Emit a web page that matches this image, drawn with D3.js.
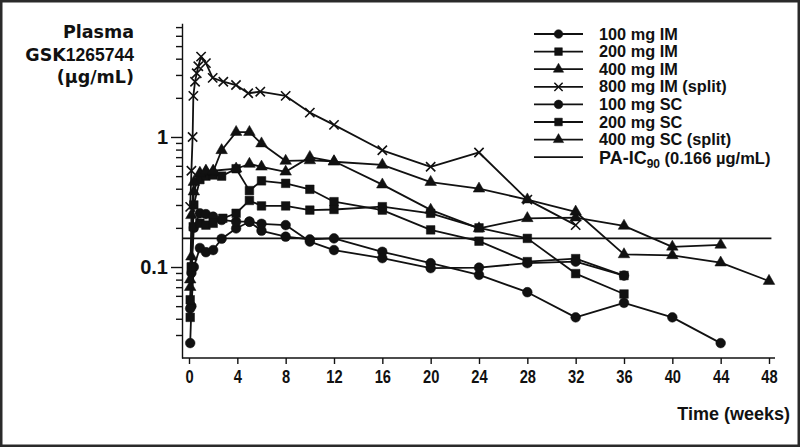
<!DOCTYPE html>
<html>
<head>
<meta charset="utf-8">
<script src="https://cdn.jsdelivr.net/npm/d3@7/dist/d3.min.js"></script>
<style>
body { margin:0; background:#fff; }
svg text { font-family:"Liberation Sans", Arial, sans-serif; font-weight:bold; fill:#111; }
svg .wide { font-family:"DejaVu Sans", Verdana, sans-serif; }
svg .plain { font-family:"Liberation Sans", Arial, sans-serif; }
</style>
</head>
<body>
<svg width="800" height="447"></svg>
<script>
// tick values
var xTicks = [0,4,8,12,16,20,24,28,32,36,40,44,48];
var yMajor = [0.1, 1];
var yMinor = [0.03,0.04,0.05,0.06,0.07,0.08,0.09,0.2,0.3,0.4,0.5,0.6,0.7,0.8,0.9,2,3,4,5,6,7];
var ic90 = 0.166;

// series names + markers (IM and SC share marker shapes)
var seriesNames = ["100 mg IM","200 mg IM","400 mg IM","800 mg IM (split)","100 mg SC","200 mg SC","400 mg SC (split)"];
var seriesSymbols = ["circle","square","triangle","cross","circle","square","triangle"];

// time (weeks) and concentration (ug/mL)
var im100Weeks = [0.1,0.2,0.4,0.9,1.4,2,2.7,3.9,5,6,8,10,12,16,20,24,28,32,36,40,44];
var im100Vals  = [0.026,0.05,0.1,0.14,0.13,0.135,0.165,0.198,0.223,0.19,0.171,0.163,0.166,0.131,0.107,0.087,0.064,0.041,0.053,0.041,0.026];

var im200Weeks = [0.1,0.2,0.4,0.9,1.4,2,2.7,3.9,5,6,8,10,12,16,20,24,28,32,36];
var im200Vals  = [0.041,0.1,0.3,0.47,0.5,0.51,0.5,0.57,0.387,0.46,0.44,0.396,0.318,0.274,0.193,0.158,0.110,0.116,0.086];

var im400Weeks = [0.1,0.2,0.4,0.9,1.4,2,2.7,3.9,5,6,8,10,12,16,20,24,28,32,36,40,44];
var im400Vals  = [0.07,0.12,0.38,0.52,0.54,0.54,0.79,1.09,1.09,0.89,0.654,0.66,0.65,0.43,0.275,0.198,0.237,0.24,0.207,0.143,0.148];

var im800Weeks = [0.1,0.2,0.3,0.36,0.5,0.64,0.77,1,1.4,1.96,2.84,3.89,4.9,5.9,8,10,12,16,20,24,28,32];
var im800Vals  = [0.29,0.55,1.0,2.07,2.66,3.09,3.5,4.15,3.7,2.85,2.66,2.51,2.17,2.23,2.07,1.54,1.24,0.79,0.59,0.76,0.33,0.21];

var sc100Weeks = [0.1,0.2,0.4,0.9,1.4,2,2.7,3.9,5,6,8,10,12,16,20,24,28,32,36];
var sc100Vals  = [0.048,0.09,0.2,0.259,0.255,0.244,0.23,0.223,0.223,0.215,0.21,0.157,0.135,0.117,0.098,0.099,0.107,0.11,0.086];

var sc200Weeks = [0.1,0.2,0.35,0.9,1.4,2,2.8,3.9,5,6,8,10,12,16,20,24,28,32,36];
var sc200Vals  = [0.056,0.1,0.204,0.217,0.21,0.217,0.237,0.259,0.325,0.295,0.295,0.274,0.277,0.291,0.259,0.2,0.166,0.089,0.062];

var sc400Weeks = [0.1,0.2,0.4,0.9,1.4,2,3.9,5,6,8,10,12,16,20,24,28,32,36,40,44,48];
var sc400Vals  = [0.08,0.25,0.45,0.53,0.55,0.55,0.57,0.62,0.59,0.54,0.70,0.645,0.61,0.45,0.40,0.33,0.266,0.125,0.123,0.108,0.078];

var allWeeks = [im100Weeks,im200Weeks,im400Weeks,im800Weeks,sc100Weeks,sc200Weeks,sc400Weeks];
var allVals  = [im100Vals,im200Vals,im400Vals,im800Vals,sc100Vals,sc200Vals,sc400Vals];

var svg = d3.select("svg");

svg.append("rect")
    .attr("x",1.25).attr("y",1.25)
    .attr("width",797.5).attr("height",444.5)
    .attr("fill","#fff")
    .attr("stroke","#2a2a2a")
    .attr("stroke-width",2.5);

var xScale = d3.scaleLinear().domain([0,48]).range([189,769]);
var yScale = d3.scaleLog().domain([0.02,7.5]).range([357.9,23.2]);
var axisX = 182;
var axisY = 358;

// symbol generator
var symbolFor = function(name, size)
{
    var types = {circle:d3.symbolCircle, square:d3.symbolSquare, triangle:d3.symbolTriangle, cross:d3.symbolX};
    return d3.symbol().type(types[name]).size(size)();
}
var sizes = {circle:74, square:74, triangle:58, cross:58};

// y axis: minor ticks then major ticks with labels
svg.append("g")
    .attr("transform","translate(" + axisX + ",0)")
    .call(d3.axisLeft(yScale).tickValues(yMinor).tickSize(6).tickSizeOuter(0).tickFormat(""))
    .call(function(g){ g.selectAll("line,path").attr("stroke","#111").attr("stroke-width",1.4); });

var yMaj = svg.append("g")
    .attr("transform","translate(" + axisX + ",0)")
    .call(d3.axisLeft(yScale).tickValues(yMajor).tickSize(11).tickPadding(3)
        .tickFormat(function(d){ return d === 1 ? "1" : "0.1"; }));
yMaj.select(".domain").remove();
yMaj.selectAll("line").attr("stroke","#111").attr("stroke-width",1.4);
yMaj.selectAll("text").attr("class","plain").attr("font-size",20).attr("fill","#111")
    .attr("font-weight","bold");

// x axis (labels squeezed to look condensed)
var xAx = svg.append("g")
    .attr("transform","translate(0," + axisY + ")")
    .call(d3.axisBottom(xScale).tickValues(xTicks).tickSize(6).tickPadding(7));
xAx.select(".domain").remove();
xAx.selectAll("line").attr("stroke","#111").attr("stroke-width",1.4);
xAx.selectAll("text").attr("class","plain").attr("font-size",17.5).attr("fill","#111")
    .attr("font-weight","bold").attr("transform","scale(0.84,1)");

svg.append("line")
    .attr("x1",axisX).attr("x2",xScale(48.5))
    .attr("y1",axisY).attr("y2",axisY)
    .attr("stroke","#111").attr("stroke-width",1.4);

// PA-IC90 reference line
svg.append("line")
    .attr("x1",axisX).attr("x2",xScale(48.2))
    .attr("y1",yScale(ic90)).attr("y2",yScale(ic90))
    .attr("stroke","#111").attr("stroke-width",1.6);

// series lines and markers
var line = d3.line()
    .x(function(p){ return xScale(p.t); })
    .y(function(p){ return yScale(p.v); });

allWeeks.forEach(function(weeks, i)
{
    var points = weeks.map(function(t, j){ return {t:t, v:allVals[i][j]}; });
    var g = svg.append("g").attr("class","series");
    g.append("path")
        .attr("d", line(points))
        .attr("fill","none")
        .attr("stroke","#111")
        .attr("stroke-width",1.8)
        .attr("stroke-linejoin","round");
    var sym = seriesSymbols[i];
    g.selectAll("path.mark")
        .data(points)
        .enter()
        .append("path")
        .attr("class","mark")
        .attr("d", symbolFor(sym, sizes[sym]))
        .attr("transform", function(p){ return "translate(" + xScale(p.t) + "," + yScale(p.v) + ")"; })
        .attr("fill", sym === "cross" ? "none" : "#111")
        .attr("stroke", "#111")
        .attr("stroke-width", sym === "cross" ? 1.6 : 0.5);
});

// legend
var legX1 = 534, legX2 = 583, legTextX = 599, legY0 = 34, legStep = 17.6;
var leg = svg.append("g").attr("class","legend");
seriesNames.forEach(function(name, i)
{
    var y = legY0 + i * legStep;
    leg.append("line").attr("x1",legX1).attr("x2",legX2).attr("y1",y).attr("y2",y)
        .attr("stroke","#111").attr("stroke-width",1.8);
    var sym = seriesSymbols[i];
    leg.append("path")
        .attr("d", symbolFor(sym, sizes[sym] * 0.8))
        .attr("transform","translate(" + (legX1 + legX2) / 2 + "," + y + ")")
        .attr("fill", sym === "cross" ? "none" : "#111")
        .attr("stroke","#111")
        .attr("stroke-width", sym === "cross" ? 1.5 : 0.5);
    leg.append("text").attr("x",legTextX).attr("y",y + 5.5)
        .attr("font-size",16.3).text(name);
});
var icY = legY0 + 7 * legStep;
leg.append("line").attr("x1",legX1).attr("x2",legX2).attr("y1",icY).attr("y2",icY)
    .attr("stroke","#111").attr("stroke-width",1.8);
var icText = leg.append("text").attr("x",legTextX).attr("y",icY + 6.5).attr("font-size",18);
icText.append("tspan").text("PA-IC");
icText.append("tspan").attr("font-size",12).attr("dy",4).text("90");
icText.append("tspan").attr("font-size",16.5).attr("dy",-4).text(" (0.166 \u00b5g/mL)");

// axis titles
var yTitle = svg.append("g").attr("text-anchor","end");
yTitle.append("text").attr("class","wide").attr("x",134).attr("y",38).attr("font-size",17.5).text("Plasma");
var gsk = yTitle.append("text").attr("class","wide").attr("x",134).attr("y",61).attr("font-size",17.5);
gsk.append("tspan").text("GSK");
gsk.append("tspan").attr("class","plain").text("1265744");
yTitle.append("text").attr("class","wide").attr("x",134).attr("y",83).attr("font-size",17.5).text("(\u00b5g/mL)");

svg.append("text")
    .attr("x",790).attr("y",420)
    .attr("text-anchor","end")
    .attr("font-size",18)
    .text("Time (weeks)");
</script>
</body>
</html>
